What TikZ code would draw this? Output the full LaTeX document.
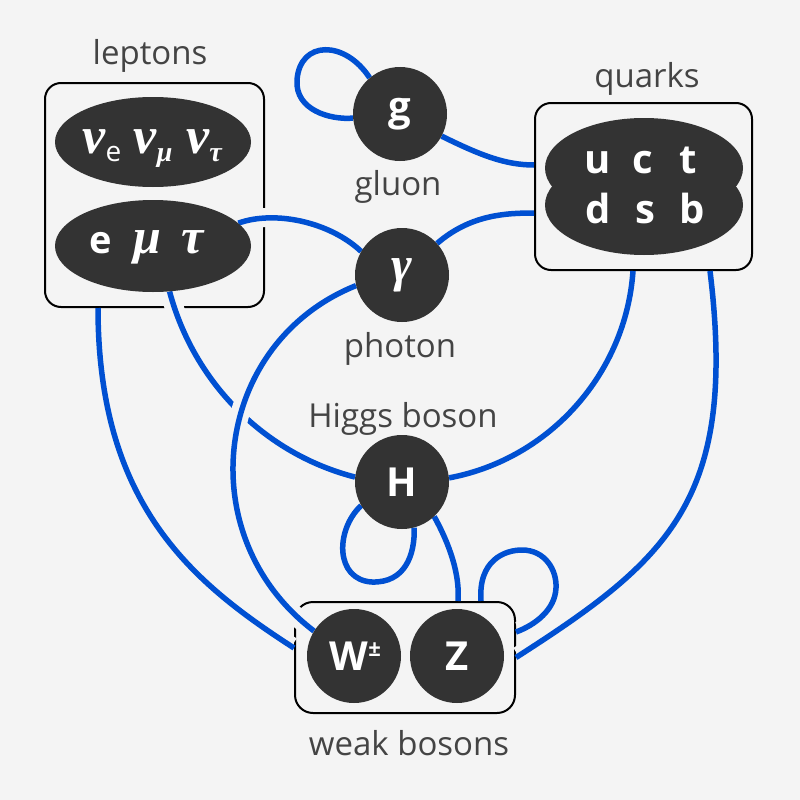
\documentclass[tikz,border=0pt]{standalone}
\usepackage{fontspec}
\setmainfont{Open Sans}
\newfontfamily\grk{Liberation Serif}
\usetikzlibrary{shapes.geometric,calc}
\definecolor{bgc}{HTML}{F4F4F4}
\definecolor{ink}{HTML}{333333}
\definecolor{labc}{HTML}{444444}
\definecolor{wireblue}{HTML}{0050D2}
\pgfdeclarelayer{back}
\pgfdeclarelayer{lines}
\pgfsetlayers{back,lines,main}
\newcommand{\gk}[1]{{\grk\bfseries\itshape #1}}
\newcommand{\subsc}[1]{\raisebox{-8pt}{\fontsize{28}{28}\selectfont #1}}
\tikzset{
  particle/.style={circle, fill=ink, minimum size=94pt, inner sep=0pt, text=white,
    font=\fontsize{40}{48}\selectfont\bfseries},
  blob/.style={ellipse, fill=ink, inner sep=0pt},
  group/.style={draw=black, line width=2pt, rounded corners=16pt, inner sep=0pt},
  tag/.style={text=labc, font=\fontsize{33}{40}\selectfont, anchor=base, inner sep=0pt},
  inner/.style={text=white, anchor=base, inner sep=0pt},
  link/.style={draw=wireblue, line width=5.5pt,
    preaction={draw=bgc, line width=19pt, shorten >=3pt, shorten <=3pt}},
}
\begin{document}
\begin{tikzpicture}[x=1pt,y=-1pt]
\useasboundingbox (0,0) rectangle (800,800);
\begin{pgfonlayer}{back}
\fill[bgc] (0,0) rectangle (800,800);
\end{pgfonlayer}

% particles
\node[blob, minimum width=196pt, minimum height=90pt] (nu) at (153,142) {};
\node[blob, minimum width=196pt, minimum height=92pt] (eell) at (153,246) {};
\node[blob, minimum width=198pt, minimum height=100pt] (qtop) at (644,168) {};
\node[blob, minimum width=198pt, minimum height=100pt] (qbot) at (644,205) {};
\node[particle] (g) at (400,114) {g};
\node[particle, font=\fontsize{50}{56}\selectfont] (ph) at (402,275) {\gk{γ}};
\node[particle] (H) at (402,482) {H};
\node[particle] (W) at (354,656) {\hspace*{-10pt}W\rlap{\raisebox{14pt}{\fontsize{22}{22}\selectfont ±}}};
\node[particle] (Z) at (457,656) {Z};

% texts inside blobs
\node[inner, font=\fontsize{52}{56}\selectfont] (nutext) at (153,153)
  {\makebox[51pt]{\gk{ν}\subsc{e}}\makebox[51pt]{\gk{ν}\subsc{\gk{μ}}}\makebox[51pt]{\gk{ν}\subsc{\gk{τ}}}};
\node[inner, font=\fontsize{50}{56}\selectfont] (etext) at (147,253)
  {\makebox[46pt]{\fontsize{38}{44}\selectfont\bfseries e}\makebox[46pt]{\gk{μ}}\makebox[46pt]{\gk{τ}}};
\node[inner, font=\fontsize{40}{48}\selectfont\bfseries] (uct) at (643,173)
  {\makebox[45pt]{u}\makebox[45pt]{c}\makebox[45pt]{t}};
\node[inner, font=\fontsize{40}{48}\selectfont\bfseries] (dsb) at (645,223)
  {\makebox[47pt]{d}\makebox[47pt]{s}\makebox[47pt]{b}};

% labels
\node[tag] (leptonslabel) at (150,65) {leptons};
\node[tag] (quarkslabel) at (647,87) {quarks};
\node[tag] (gluonlabel) at (398,195) {gluon};
\node[tag] (photonlabel) at (400,357) {photon};
\node[tag] (higgslabel) at (403,427) {Higgs boson};
\node[tag] (weaklabel) at (409,755) {weak bosons};

\begin{pgfonlayer}{lines}
\node[group, minimum width=219pt, minimum height=224pt] (lepbox) at (154.5,195) {};
\node[group, minimum width=217pt, minimum height=167pt] (qbox) at (643.5,186.5) {};
\node[group, minimum width=220pt, minimum height=111pt, rounded corners=18pt] (wbox) at (405,657.5) {};

\draw[link] (g.130) .. controls (345,40) and (300,40) .. (297,80) .. controls (295,110) and (330,120) .. (g.185);
\draw[link] (g.-28) .. controls (480,155) and (505,165) .. ([yshift=21.5pt]qbox.west);
\draw[link] (ph.42) .. controls (470,215) and (505,213) .. ([yshift=-26.5pt]qbox.west);
\draw[link] (eell.15) .. controls (275,210) and (330,222) .. (ph.150);
\draw[link] (eell.-70) .. controls (194,383) and (265,454) .. (H.174);
\draw[link] (ph.193) .. controls (213,343) and (189,536) .. (W.148);
\draw[link] (H.5) .. controls (550,459) and (626,373) .. ([xshift=-10.5pt]qbox.south);
\draw[link] ([xshift=66.5pt]qbox.south) .. controls (738,500) and (668,560) .. (wbox.east);
\draw[link] (H.-47) .. controls (450,545) and (460,575) .. ([xshift=53pt]wbox.north);
\draw[link] (H.210) .. controls (335,530) and (335,580) .. (372,582) .. controls (405,583) and (415,555) .. (H.-75);
\draw[link] ([xshift=76pt]wbox.north) .. controls (478,560) and (505,550) .. (522,550) .. controls (545,550) and (557,570) .. (556,588) .. controls (555,610) and (535,625) .. ([yshift=25.5pt]wbox.east);
\draw[link] ([xshift=-56.5pt]lepbox.south) .. controls (98,507) and (195,584) .. ([yshift=9.5pt]wbox.west);
\end{pgfonlayer}
\end{tikzpicture}
\end{document}
